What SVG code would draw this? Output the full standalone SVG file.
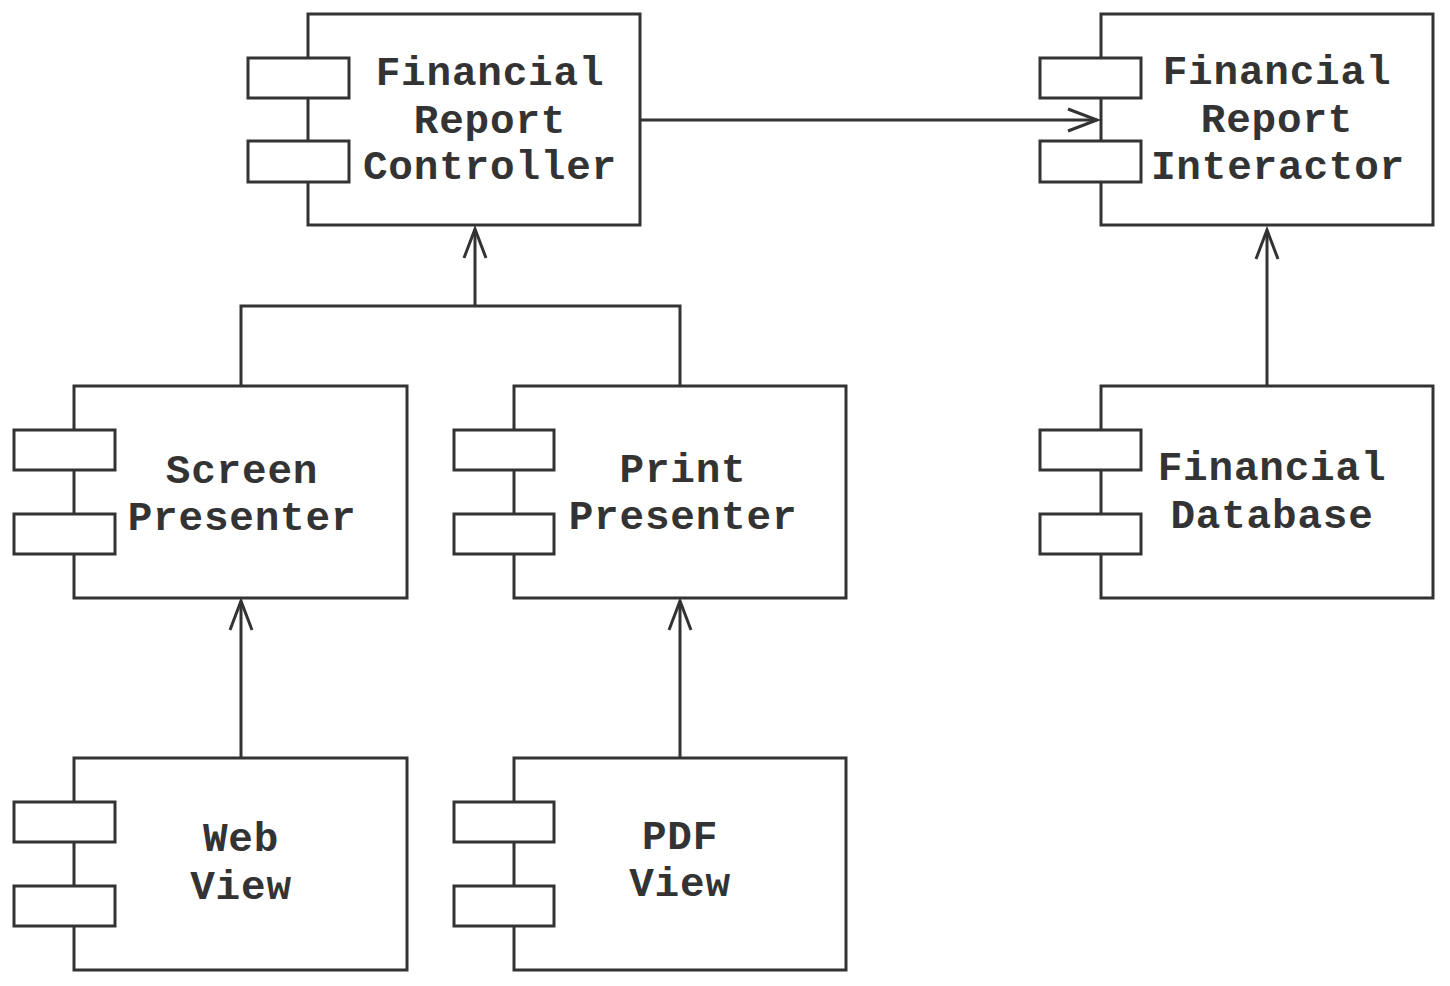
<svg xmlns="http://www.w3.org/2000/svg" width="1450" height="986" viewBox="0 0 1450 986">
<defs>
<style>
.box{fill:#fff;stroke:#333;stroke-width:3}
.conn{fill:none;stroke:#333;stroke-width:3}
.t{font-family:"Liberation Mono","Courier New",monospace;font-weight:bold;font-size:41px;letter-spacing:0.8px;fill:#333;text-anchor:middle}
</style>
<marker id="arr" markerUnits="userSpaceOnUse" markerWidth="40" markerHeight="30" viewBox="-32 -15 40 30" refX="0" refY="0" orient="auto">
<path d="M-29,-11 L0,0 L-29,11" fill="none" stroke="#333" stroke-width="3"/>
</marker>
</defs>
<rect width="1450" height="986" fill="#fff"/>
<g id="connectors">
<path class="conn" d="M640,120 H1097" marker-end="url(#arr)"/>
<path class="conn" d="M241,386 V306 H680 V386"/>
<path class="conn" d="M475,306 V229" marker-end="url(#arr)"/>
<path class="conn" d="M241,758 V601" marker-end="url(#arr)"/>
<path class="conn" d="M680,758 V601" marker-end="url(#arr)"/>
<path class="conn" d="M1267,386 V230" marker-end="url(#arr)"/>
</g>
<g id="financial-report-controller">
<rect class="box" x="308" y="14" width="332" height="211"/>
<rect class="box" x="248" y="58" width="101" height="40"/>
<rect class="box" x="248" y="141" width="101" height="41"/>
<text class="t" x="490" y="85">Financial</text>
<text class="t" x="490" y="133">Report</text>
<text class="t" x="490" y="179">Controller</text>
</g>
<g id="financial-report-interactor">
<rect class="box" x="1101" y="14" width="332" height="211"/>
<rect class="box" x="1040" y="58" width="101" height="40"/>
<rect class="box" x="1040" y="141" width="101" height="41"/>
<text class="t" x="1277" y="84">Financial</text>
<text class="t" x="1277" y="132">Report</text>
<text class="t" x="1278" y="179">Interactor</text>
</g>
<g id="screen-presenter">
<rect class="box" x="74" y="386" width="333" height="212"/>
<rect class="box" x="14" y="430" width="101" height="40"/>
<rect class="box" x="14" y="514" width="101" height="40"/>
<text class="t" x="242" y="483">Screen</text>
<text class="t" x="242" y="530">Presenter</text>
</g>
<g id="print-presenter">
<rect class="box" x="514" y="386" width="332" height="212"/>
<rect class="box" x="454" y="430" width="100" height="40"/>
<rect class="box" x="454" y="514" width="100" height="40"/>
<text class="t" x="683" y="482">Print</text>
<text class="t" x="683" y="529">Presenter</text>
</g>
<g id="financial-database">
<rect class="box" x="1101" y="386" width="332" height="212"/>
<rect class="box" x="1040" y="430" width="101" height="40"/>
<rect class="box" x="1040" y="514" width="101" height="40"/>
<text class="t" x="1272" y="480">Financial</text>
<text class="t" x="1272" y="528">Database</text>
</g>
<g id="web-view">
<rect class="box" x="74" y="758" width="333" height="212"/>
<rect class="box" x="14" y="802" width="101" height="40"/>
<rect class="box" x="14" y="886" width="101" height="40"/>
<text class="t" x="241" y="851">Web</text>
<text class="t" x="241" y="899">View</text>
</g>
<g id="pdf-view">
<rect class="box" x="514" y="758" width="332" height="212"/>
<rect class="box" x="454" y="802" width="100" height="40"/>
<rect class="box" x="454" y="886" width="100" height="40"/>
<text class="t" x="680" y="849">PDF</text>
<text class="t" x="680" y="896">View</text>
</g>
</svg>
